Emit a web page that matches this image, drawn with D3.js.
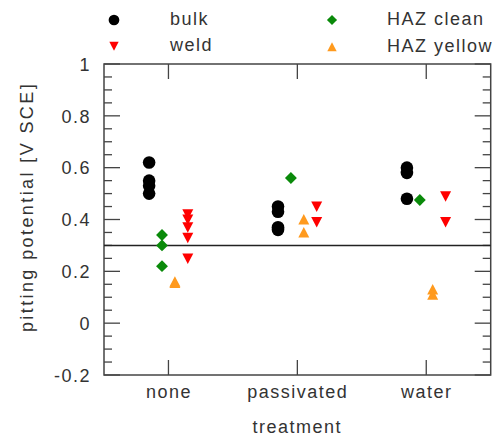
<!DOCTYPE html>
<html><head><meta charset="utf-8">
<script src="https://cdn.jsdelivr.net/npm/d3@7"></script>
<style>
body{margin:0;background:#fff;}
text{font-family:"Liberation Sans",Arial,Helvetica,sans-serif;fill:#333;}
</style></head>
<body><svg id="c" width="494" height="441"></svg>
<script>
const categories = ["none","passivated","water"];
const seriesNames = ["bulk","weld","HAZ clean","HAZ yellow"];
const seriesOffsets = [-0.15, 0.15, -0.05, 0.05];
const bulk = [[0.62,0.55,0.53,0.50],[0.45,0.43,0.37,0.36],[0.60,0.58,0.48]];
const weld = [[0.42,0.40,0.37,0.33,0.25],[0.45,0.39],[0.49,0.39]];
const hazClean = [[0.34,0.30,0.22],[0.56],[0.475]];
const hazYellow = [[0.16,0.155],[0.40,0.35],[0.13,0.11]];
const yTicks = [-0.2,0,0.2,0.4,0.6,0.8,1];
const yTickLabels = ["-0.2","0","0.2","0.4","0.6","0.8","1"];
const refLine = 0.3;

const svg = d3.select("#c");
const L=104, R=490.7, T=64, B=375;
const x = d3.scaleLinear().domain([0.5,3.5]).range([L,R]);
const y = d3.scaleLinear().domain([-0.2,1]).range([B,T]);
const frameColor="#444";

svg.append("rect").attr("x",L).attr("y",T).attr("width",R-L).attr("height",B-T)
  .attr("fill","none").attr("stroke",frameColor).attr("stroke-width",1.5);

const minor = d3.range(-0.2,1.0001,0.05).map(v=>+v.toFixed(2));
minor.forEach(v=>{
  const isMajor = yTicks.some(t=>Math.abs(t-v)<1e-6);
  const len = isMajor?16:8;
  svg.append("line").attr("x1",L).attr("x2",L+len).attr("y1",y(v)).attr("y2",y(v)).attr("stroke",frameColor).attr("stroke-width",1.3);
  svg.append("line").attr("x1",R).attr("x2",R-len).attr("y1",y(v)).attr("y2",y(v)).attr("stroke",frameColor).attr("stroke-width",1.3);
});
const yAxis = d3.axisLeft(y).tickValues(yTicks).tickFormat((d,i)=>yTickLabels[i]).tickSize(0).tickPadding(13);
const ya = svg.append("g").attr("transform",`translate(${L},0)`).call(yAxis);
ya.select(".domain").remove();
ya.selectAll("text").style("font-size","18px").style("letter-spacing","1.5px").attr("fill","#333").attr("dy","0.35em");

categories.forEach((c,i)=>{
  svg.append("line").attr("x1",x(i+1)).attr("x2",x(i+1)).attr("y1",B).attr("y2",B-15).attr("stroke",frameColor).attr("stroke-width",1.3);
  svg.append("line").attr("x1",x(i+1)).attr("x2",x(i+1)).attr("y1",T).attr("y2",T+15).attr("stroke",frameColor).attr("stroke-width",1.3);
});
const xAxis = d3.axisBottom(x).tickValues([1,2,3]).tickFormat((d,i)=>categories[i]).tickSize(0).tickPadding(10);
const xa = svg.append("g").attr("transform",`translate(0,${B})`).call(xAxis);
xa.select(".domain").remove();
xa.selectAll("text").style("font-size","18px").style("letter-spacing","1.5px").attr("fill","#333");

svg.append("text").attr("x",(L+R)/2).attr("y",427).attr("text-anchor","middle").attr("dominant-baseline","central")
  .style("font-size","18px").style("letter-spacing","1.5px").text("treatment");
svg.append("text").attr("transform",`translate(27,${207}) rotate(-90)`).attr("text-anchor","middle").attr("dominant-baseline","central")
  .style("font-size","18px").style("letter-spacing","2.4px").text("pitting potential [V SCE]");

svg.append("line").attr("x1",L).attr("x2",R).attr("y1",y(refLine)).attr("y2",y(refLine)).attr("stroke","#222").attr("stroke-width",1.5);

const colors = {"bulk":"#000","weld":"#ff0000","HAZ clean":"#0a8a0a","HAZ yellow":"#ff9a1e"};
function marker(g, name, cx, cy, s){
  if(name==="bulk") g.append("circle").attr("cx",cx).attr("cy",cy).attr("r",6.3*s).attr("fill",colors[name]);
  else if(name==="HAZ clean") g.append("path").attr("d",d3.symbol(d3.symbolDiamond2, 90*s*s)()).attr("transform",`translate(${cx},${cy})`).attr("fill",colors[name]);
  else if(name==="weld") g.append("path").attr("d",`M${-5.5*s},${-5*s}L${5.5*s},${-5*s}L0,${5.5*s}Z`).attr("transform",`translate(${cx},${cy})`).attr("fill",colors[name]);
  else g.append("path").attr("d",`M${-5.5*s},${5*s}L${5.5*s},${5*s}L0,${-5.5*s}Z`).attr("transform",`translate(${cx},${cy})`).attr("fill",colors[name]);
}
const allData = [bulk, weld, hazClean, hazYellow];
const gp = svg.append("g");
allData.forEach((ser,si)=>{
  ser.forEach((vals,ci)=>{
    vals.forEach(v=>marker(gp, seriesNames[si], x(ci+1+seriesOffsets[si]), y(v), 1));
  });
});

const lg = svg.append("g");
const legPos = [[114,20,170],[114,46,170],[332,20,387],[332,47,387]];
seriesNames.forEach((n,i)=>{
  const [mx,my,tx]=legPos[i];
  marker(lg,n,mx,my,0.85);
  lg.append("text").attr("x",tx).attr("y",my-1).attr("dominant-baseline","central").style("font-size","18px").style("letter-spacing","1.5px").text(n);
});
</script></body></html>
